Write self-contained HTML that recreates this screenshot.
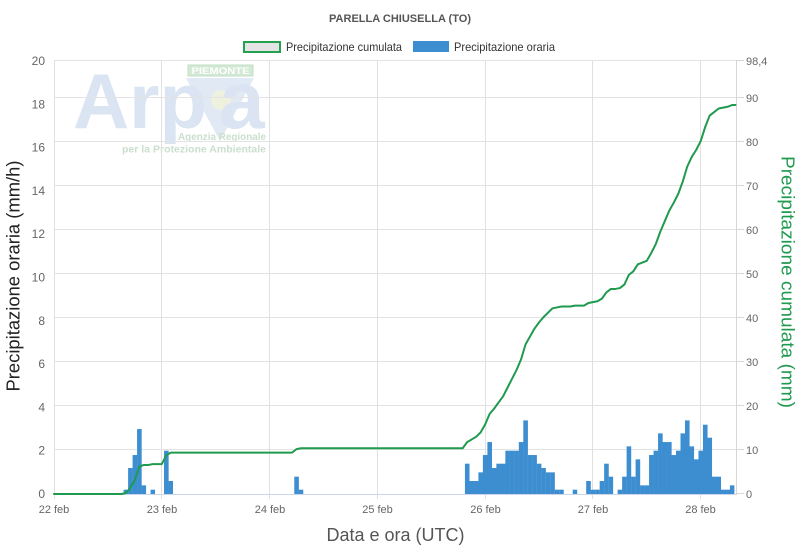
<!DOCTYPE html>
<html>
<head>
<meta charset="utf-8">
<style>
  html, body { margin: 0; padding: 0; background: #ffffff; }
  body { width: 800px; height: 550px; overflow: hidden; }
  svg { display: block; font-family: "Liberation Sans", Arial, sans-serif; }
</style>
</head>
<body>
<svg width="800" height="550" viewBox="0 0 800 550" xmlns="http://www.w3.org/2000/svg">
  <rect x="0" y="0" width="800" height="550" fill="#ffffff"/>

  <!-- Title -->
  <text x="400" y="22" text-anchor="middle" font-size="11" font-weight="bold" fill="#555555" textLength="142" lengthAdjust="spacingAndGlyphs">PARELLA CHIUSELLA (TO)</text>

  <!-- Legend -->
  <rect x="244" y="42" width="36" height="10" fill="#e4e4e4" stroke="#23a050" stroke-width="2"/>
  <text x="286" y="51" font-size="12" fill="#333333" textLength="116" lengthAdjust="spacingAndGlyphs">Precipitazione cumulata</text>
  <rect x="413" y="41" width="36" height="11" fill="#3c8ed0"/>
  <text x="454" y="51" font-size="12" fill="#333333" textLength="101" lengthAdjust="spacingAndGlyphs">Precipitazione oraria</text>

  <!-- Watermark logo -->
  <g>
    <polygon points="186,78 254,78 220,141" fill="#e0e9f4"/>
    <circle cx="221" cy="100" r="10" fill="#eff1df"/>
    <text x="73" y="128" font-size="78" font-weight="bold" fill="#dbe4f2" textLength="134" lengthAdjust="spacingAndGlyphs">Arp</text>
    <text x="219" y="128" font-size="82" font-weight="bold" fill="#dbe4f2">a</text>
    <rect x="188" y="65" width="65" height="11" fill="#d3e9d5" stroke="#c2dfc5" stroke-width="1"/>
    <text x="220.5" y="74" text-anchor="middle" font-size="9" font-weight="bold" fill="#ffffff" textLength="58" lengthAdjust="spacingAndGlyphs">PIEMONTE</text>
    <text x="266" y="140" text-anchor="end" font-size="10" font-weight="bold" fill="#cadfcd" textLength="88" lengthAdjust="spacingAndGlyphs">Agenzia Regionale</text>
    <text x="266" y="152.5" text-anchor="end" font-size="10" font-weight="bold" fill="#cadfcd" textLength="144" lengthAdjust="spacingAndGlyphs">per la Protezione Ambientale</text>
  </g>

  <!-- Horizontal gridlines (right axis ticks) -->
  <g stroke="#e3e3e3" stroke-width="1">
    <line x1="54" y1="60.5" x2="737" y2="60.5"/>
    <line x1="54" y1="97.5" x2="737" y2="97.5"/>
    <line x1="54" y1="141.5" x2="737" y2="141.5"/>
    <line x1="54" y1="185.5" x2="737" y2="185.5"/>
    <line x1="54" y1="229.5" x2="737" y2="229.5"/>
    <line x1="54" y1="273.5" x2="737" y2="273.5"/>
    <line x1="54" y1="317.5" x2="737" y2="317.5"/>
    <line x1="54" y1="361.5" x2="737" y2="361.5"/>
    <line x1="54" y1="405.5" x2="737" y2="405.5"/>
    <line x1="54" y1="449.5" x2="737" y2="449.5"/>
  </g>
  <!-- Vertical gridlines -->
  <g stroke="#e0e0e0" stroke-width="1">
    <line x1="54.5" y1="60" x2="54.5" y2="494"/>
    <line x1="161.5" y1="60" x2="161.5" y2="499"/>
    <line x1="269.5" y1="60" x2="269.5" y2="499"/>
    <line x1="377.5" y1="60" x2="377.5" y2="499"/>
    <line x1="485.5" y1="60" x2="485.5" y2="499"/>
    <line x1="592.5" y1="60" x2="592.5" y2="499"/>
    <line x1="700.5" y1="60" x2="700.5" y2="499"/>
    <line x1="54.5" y1="494" x2="54.5" y2="499"/>
  </g>
  <!-- Right axis line & ticks -->
  <g stroke="#d6d6d6" stroke-width="1">
    <line x1="736.5" y1="60" x2="736.5" y2="494"/>
    <line x1="737" y1="60.5" x2="744" y2="60.5"/>
    <line x1="737" y1="97.5" x2="744" y2="97.5"/>
    <line x1="737" y1="141.5" x2="744" y2="141.5"/>
    <line x1="737" y1="185.5" x2="744" y2="185.5"/>
    <line x1="737" y1="229.5" x2="744" y2="229.5"/>
    <line x1="737" y1="273.5" x2="744" y2="273.5"/>
    <line x1="737" y1="317.5" x2="744" y2="317.5"/>
    <line x1="737" y1="361.5" x2="744" y2="361.5"/>
    <line x1="737" y1="405.5" x2="744" y2="405.5"/>
    <line x1="737" y1="449.5" x2="744" y2="449.5"/>
    <line x1="737" y1="493.5" x2="744" y2="493.5"/>
  </g>

  <!-- Bars (hourly precipitation) -->
  <g fill="#3c8ed0">
    <rect x="123.61" y="489.67" width="4.6" height="4.33"/>
    <rect x="128.10" y="468.02" width="4.6" height="25.98"/>
    <rect x="132.59" y="455.03" width="4.6" height="38.97"/>
    <rect x="137.08" y="429.05" width="4.6" height="64.95"/>
    <rect x="141.57" y="485.34" width="4.5" height="8.66"/>
    <rect x="150.56" y="489.67" width="4.5" height="4.33"/>
    <rect x="164.03" y="450.70" width="4.6" height="43.30"/>
    <rect x="168.52" y="481.01" width="4.5" height="12.99"/>
    <rect x="294.27" y="476.68" width="4.6" height="17.32"/>
    <rect x="298.76" y="489.67" width="4.5" height="4.33"/>

    <rect x="464.93" y="463.69" width="4.6" height="30.31"/>
    <rect x="469.42" y="481.01" width="4.6" height="12.99"/>
    <rect x="473.91" y="481.01" width="4.6" height="12.99"/>
    <rect x="478.40" y="472.35" width="4.6" height="21.65"/>
    <rect x="482.89" y="455.03" width="4.6" height="38.97"/>
    <rect x="487.39" y="442.04" width="4.6" height="51.96"/>
    <rect x="491.88" y="468.02" width="4.6" height="25.98"/>
    <rect x="496.37" y="463.69" width="4.6" height="30.31"/>
    <rect x="500.86" y="463.69" width="4.6" height="30.31"/>
    <rect x="505.35" y="450.70" width="4.6" height="43.30"/>
    <rect x="509.84" y="450.70" width="4.6" height="43.30"/>
    <rect x="514.33" y="450.70" width="4.6" height="43.30"/>
    <rect x="518.82" y="442.04" width="4.6" height="51.96"/>
    <rect x="523.31" y="420.39" width="4.6" height="73.61"/>
    <rect x="527.80" y="455.03" width="4.6" height="38.97"/>
    <rect x="532.30" y="455.03" width="4.6" height="38.97"/>
    <rect x="536.79" y="463.69" width="4.6" height="30.31"/>
    <rect x="541.28" y="468.02" width="4.6" height="25.98"/>
    <rect x="545.77" y="472.35" width="4.6" height="21.65"/>
    <rect x="550.26" y="472.35" width="4.6" height="21.65"/>
    <rect x="554.75" y="489.67" width="4.6" height="4.33"/>
    <rect x="559.24" y="489.67" width="4.5" height="4.33"/>
    <rect x="572.71" y="489.67" width="4.5" height="4.33"/>
    <rect x="586.19" y="481.01" width="4.6" height="12.99"/>
    <rect x="590.68" y="489.67" width="4.6" height="4.33"/>
    <rect x="595.17" y="489.67" width="4.6" height="4.33"/>
    <rect x="599.66" y="481.01" width="4.6" height="12.99"/>
    <rect x="604.15" y="463.69" width="4.6" height="30.31"/>
    <rect x="608.64" y="476.68" width="4.5" height="17.32"/>
    <rect x="617.62" y="489.67" width="4.6" height="4.33"/>
    <rect x="622.12" y="476.68" width="4.6" height="17.32"/>
    <rect x="626.61" y="446.37" width="4.6" height="47.63"/>
    <rect x="631.10" y="476.68" width="4.6" height="17.32"/>
    <rect x="635.59" y="459.36" width="4.6" height="34.64"/>
    <rect x="640.08" y="485.34" width="4.6" height="8.66"/>
    <rect x="644.57" y="485.34" width="4.6" height="8.66"/>
    <rect x="649.06" y="455.03" width="4.6" height="38.97"/>
    <rect x="653.55" y="450.70" width="4.6" height="43.30"/>
    <rect x="658.04" y="433.38" width="4.6" height="60.62"/>
    <rect x="662.53" y="442.04" width="4.6" height="51.96"/>
    <rect x="667.03" y="442.04" width="4.6" height="51.96"/>
    <rect x="671.52" y="455.03" width="4.6" height="38.97"/>
    <rect x="676.01" y="450.70" width="4.6" height="43.30"/>
    <rect x="680.50" y="433.38" width="4.6" height="60.62"/>
    <rect x="684.99" y="420.39" width="4.6" height="73.61"/>
    <rect x="689.48" y="446.37" width="4.6" height="47.63"/>
    <rect x="693.97" y="459.36" width="4.6" height="34.64"/>
    <rect x="698.46" y="450.70" width="4.6" height="43.30"/>
    <rect x="702.95" y="424.72" width="4.6" height="69.28"/>
    <rect x="707.44" y="437.71" width="4.6" height="56.29"/>
    <rect x="711.94" y="476.68" width="4.6" height="17.32"/>
    <rect x="716.43" y="476.68" width="4.6" height="17.32"/>
    <rect x="720.92" y="489.67" width="4.6" height="4.33"/>
    <rect x="725.41" y="489.67" width="4.6" height="4.33"/>
    <rect x="729.90" y="485.34" width="4.5" height="8.66"/>
  </g>

  <!-- X axis baseline -->
  <line x1="54" y1="494.5" x2="737" y2="494.5" stroke="#ccd6eb" stroke-width="1"/>

  <!-- Cumulative line -->
  <polyline fill="none" stroke="#1f9a4f" stroke-width="2" stroke-linejoin="round" stroke-linecap="round"
    points="54,494 121.37,494 125.86,493.12 130.35,487.84 134.84,479.92 139.33,466.72 143.82,464.96 148.31,464.96 152.8,464.08 161.78,464.08 166.28,455.28 170.77,452.64 292.02,452.64 296.51,449.12 301.01,448.24 462.68,448.24 467.17,442.08 471.66,439.44 476.15,436.79 480.64,432.39 485.13,424.47 489.63,413.91 494.12,408.63 498.61,402.47 503.1,396.31 507.59,387.51 512.08,378.71 516.57,369.91 521.06,359.35 525.55,344.39 530.04,336.47 534.54,328.55 539.03,322.38 543.52,317.1 548.01,312.7 552.5,308.3 556.99,307.42 561.48,306.54 570.46,306.54 574.95,305.66 583.94,305.66 588.43,303.02 592.92,302.14 597.41,301.26 601.9,298.62 606.39,292.46 610.88,288.94 615.37,288.94 619.86,288.06 624.36,284.54 628.85,274.86 633.34,271.34 637.83,264.3 642.32,262.54 646.81,260.78 651.3,252.86 655.79,244.06 660.28,231.74 664.77,221.18 669.27,210.61 673.76,202.69 678.25,193.89 682.74,181.57 687.23,166.61 691.72,156.93 696.21,149.89 700.7,141.09 705.19,127.01 709.68,115.57 714.18,112.04 718.67,108.52 723.16,107.64 727.65,106.76 732.14,105 735.5,105"/>

  <!-- Left axis labels -->
  <g font-size="12" fill="#666666" text-anchor="end">
    <text x="45" y="65">20</text>
    <text x="45" y="108.3">18</text>
    <text x="45" y="151.6">16</text>
    <text x="45" y="194.9">14</text>
    <text x="45" y="238.2">12</text>
    <text x="45" y="281.5">10</text>
    <text x="45" y="324.8">8</text>
    <text x="45" y="368.1">6</text>
    <text x="45" y="411.4">4</text>
    <text x="45" y="454.7">2</text>
    <text x="45" y="498">0</text>
  </g>

  <!-- Right axis labels -->
  <g font-size="11" fill="#666666" text-anchor="start">
    <text x="746" y="65">98,4</text>
    <text x="746" y="102">90</text>
    <text x="746" y="146">80</text>
    <text x="746" y="190">70</text>
    <text x="746" y="234">60</text>
    <text x="746" y="278">50</text>
    <text x="746" y="322">40</text>
    <text x="746" y="366">30</text>
    <text x="746" y="410">20</text>
    <text x="746" y="454">10</text>
    <text x="746" y="498">0</text>
  </g>

  <!-- X axis labels -->
  <g font-size="11" fill="#666666" text-anchor="middle">
    <text x="54" y="513">22 feb</text>
    <text x="162" y="513">23 feb</text>
    <text x="270" y="513">24 feb</text>
    <text x="377.5" y="513">25 feb</text>
    <text x="485.5" y="513">26 feb</text>
    <text x="593" y="513">27 feb</text>
    <text x="700.5" y="513">28 feb</text>
  </g>

  <!-- Axis titles -->
  <text x="395.5" y="541" text-anchor="middle" font-size="18" fill="#555555">Data e ora (UTC)</text>
  <text transform="translate(19.5,276) rotate(-90)" x="0" y="0" text-anchor="middle" font-size="18" fill="#222222" textLength="231" lengthAdjust="spacingAndGlyphs">Precipitazione oraria (mm/h)</text>
  <text transform="translate(781.5,282) rotate(90)" x="0" y="0" text-anchor="middle" font-size="18" fill="#1f9a4f" textLength="252" lengthAdjust="spacingAndGlyphs">Precipitazione cumulata (mm)</text>
</svg>
</body>
</html>
